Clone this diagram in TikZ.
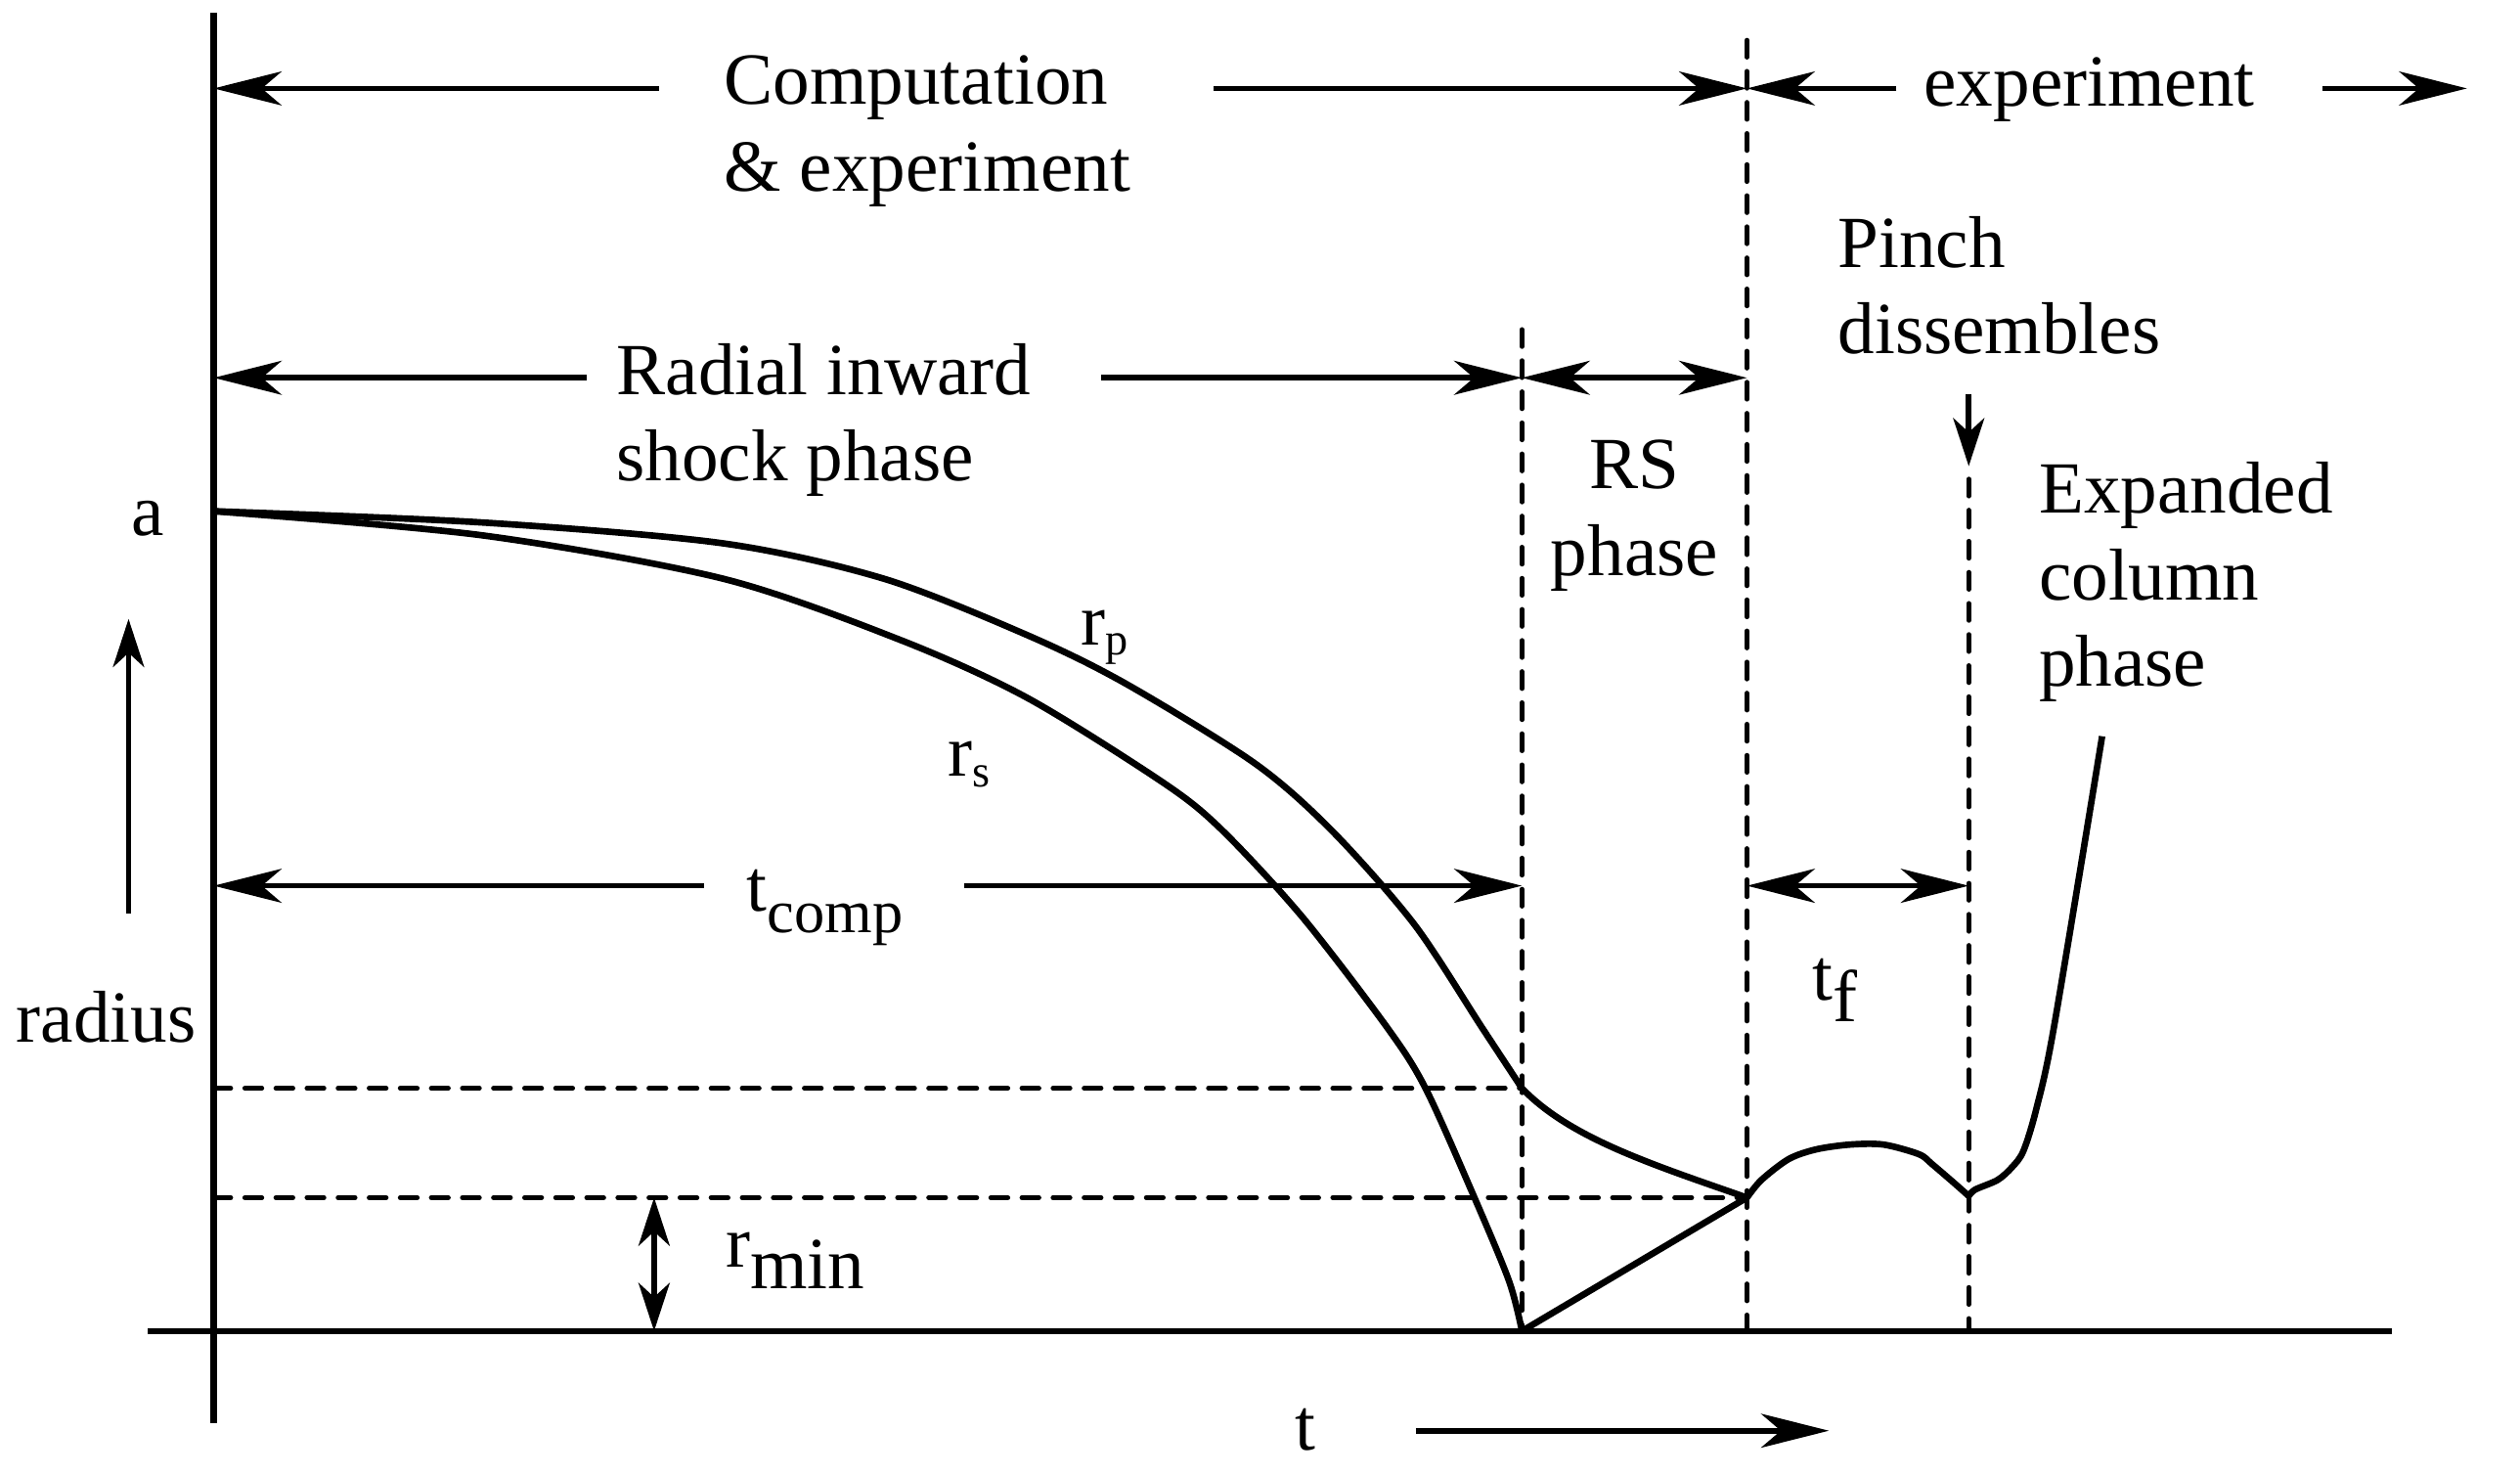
\documentclass[tikz,border=0pt]{standalone}
\usepackage{fontspec}
\setmainfont{Liberation Serif}
\usetikzlibrary{arrows.meta}
\tikzset{
>={Stealth[length=12pt,width=6pt,inset=3.5pt]}, % long narrow heads
every node/.style={inner sep=0pt, font=\fontsize{13}{15.3}\selectfont},
span/.style={line width=1pt}, % axes and arrows
short/.style={>={Stealth[length=8.5pt,width=5.5pt,inset=2.5pt]}}, % vertical arrows
curve/.style={line width=1.15pt, line join=round},
guide/.style={line width=0.85pt, line cap=round, dash pattern=on 3pt off 2.5pt},
}
% low subscripts (nearly full size) and small ones
\newcommand{\lsub}[2][13]{\raisebox{-3.8pt}{\fontsize{#1}{#1}\selectfont #2}}
\newcommand{\ssub}[1]{\raisebox{-1.8pt}{\fontsize{8}{8}\selectfont #1}}

\begin{document}
\begin{tikzpicture}[x=0.01cm, y=-0.01cm]
  \useasboundingbox (0,0) rectangle (1568,917);

  % axes
  \coordinate (ytop) at (133,8);
  \coordinate (ybot) at (133,885);
  \coordinate (xleft) at (92,828);
  \coordinate (xright) at (1488,828);
  \draw[span, line width=1.1pt] (ytop) -- (ybot);
  \draw[span, line width=1.1pt] (xleft) -- (xright);

  % rows and phase boundaries
  \coordinate (row1) at (0,55);
  \coordinate (row2) at (0,235);
  \coordinate (row3) at (0,551);
  \coordinate (b0) at (133,828);
  \coordinate (b1) at (947,828);
  \coordinate (b2) at (1087,828);
  \coordinate (b3) at (1225,828);
  \coordinate (rpk) at (947,677);
  \coordinate (rmn) at (1087,745);
  \coordinate (dip) at (1225,745);

  \draw[guide] (947,205) -- (b1);
  \draw[guide] (1087,25) -- (b2);
  \draw[guide] (1225,298) -- (b3);
  \draw[guide] (b0 |- rpk) -- (rpk);
  \draw[guide] (b0 |- rmn) -- (rmn);

  % Computation & experiment
  \node[anchor=north west, align=left] (compexp) at (450,34) {Computation\\\& experiment};
  \draw[span,->] (410,55) -- (b0 |- row1);
  \draw[span,->] (755,55) -- (b2 |- row1);

  % experiment
  \node[anchor=base] (exper) at (1300,66) {experiment};
  \draw[span,->] (1180,55) -- (b2 |- row1);
  \draw[span,->] (1445,55) -- (1535,55);

  % Radial inward shock phase
  \node[anchor=north west, align=left] (radial) at (383,213) {Radial inward\\shock phase};
  \draw[span,->] (365,235) -- (b0 |- row2);
  \draw[span,->] (685,235) -- (b1 |- row2);
  \draw[span,<->] (b1 |- row2) -- (b2 |- row2);

  % RS phase
  \node[anchor=north, align=center] (rsphase) at (1017,273) {RS\\phase};

  % Pinch dissembles
  \node[anchor=north west, align=left] (pinch) at (1143,134) {Pinch\\dissembles};
  \draw[span,short,->] (1225,245) -- (1225,290);

  % Expanded column phase
  \node[anchor=north west, align=left] (expcol) at (1268,287) {Expanded\\column\\phase};

  % radius
  \node[anchor=base] (alab) at (92,333) {a};
  \node[anchor=base] (radius) at (66,648) {radius};
  \draw[span,short,->] (80,568) -- (80,385);

  % tcomp
  \node[anchor=base west] (tcomp) at (464,567) {t\lsub[10.8]{comp}};
  \draw[span,->] (438,551) -- (b0 |- row3);
  \draw[span,->] (600,551) -- (b1 |- row3);

  % tf
  \node[anchor=base west] (tf) at (1127,622) {t\lsub{f}};
  \draw[span,<->] (b2 |- row3) -- (b3 |- row3);

  % rmin
  \node[anchor=base west] (rmin) at (451,788) {r\lsub{min}};
  \draw[span,short,<->] (407,745) -- (407,828);

  % time
  \node[anchor=base] (tlab) at (812,902) {t};
  \draw[span,->] (881,890) -- (1138,890);

  % rp and rs
  \node[anchor=base west] (rp) at (672,401) {r\ssub{p}};
  \node[anchor=base west] (rs) at (589,483) {r\ssub{s}};
  \draw[curve] plot[smooth] coordinates {(133,318) (300,325) (450,338) (550,360) (639,395) (700,425) (781,475) (829,517) (880,575) (922,639) (947,677)};
  \draw[curve] (rpk) .. controls (977,708) and (1027,724) .. (rmn);
  \draw[curve] plot[smooth] coordinates {(133,318) (300,333) (450,360) (560,398) (639,434) (724,487) (760,516) (810,570) (863,639) (887,677) (917,744) (939,797) (947,828)};
  \draw[curve] (b1) -- (rmn);

  % after the pinch
  \draw[curve] plot[smooth] coordinates {(1087,745) (1096,734) (1113,721) (1130,715) (1151,712) (1172,712) (1194,718) (1202,724) (1216,736) (1225,744)};
  \draw[curve] plot[smooth] coordinates {(1225,744) (1229,740) (1243,734) (1252,726) (1259,716) (1267,690) (1278,639) (1308,458)};
\end{tikzpicture}
\end{document}
